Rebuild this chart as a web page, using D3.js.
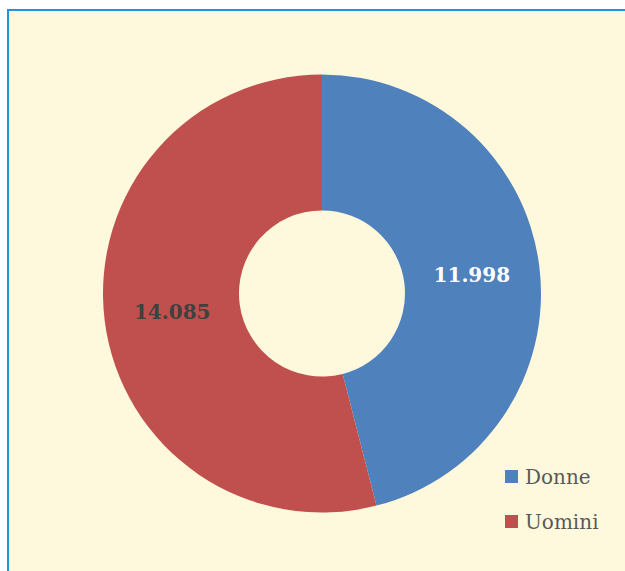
<!DOCTYPE html>
<html>
<head>
<meta charset="utf-8">
<script src="https://cdn.jsdelivr.net/npm/d3@7"></script>
<style>
  body { margin: 0; background: #fff; }
  svg { display: block; }
</style>
</head>
<body>
<svg width="625" height="571"></svg>
<script>
var categories = ["Donne", "Uomini"],
    values = [11998, 14085],
    valueLabels = ["11.998", "14.085"];

var colors = ["#4F81BD", "#C0504D"],
    labelColors = ["#ffffff", "#404040"];

var svg = d3.select("svg");

// chart area background with blue frame
svg.append("rect")
    .attr("x", 8).attr("y", 10)
    .attr("width", 640).attr("height", 580)
    .attr("fill", "#FEF9DC")
    .attr("stroke", "#1F96D8")
    .attr("stroke-width", 2);

var cx = 322, cy = 293.5, outer = 219, inner = 83;

var pie = d3.pie().sort(null).value(function(d) { return d; });
var arc = d3.arc().innerRadius(inner).outerRadius(outer);
var labelArc = d3.arc().innerRadius(151).outerRadius(151);

var g = svg.append("g").attr("transform", "translate(" + cx + "," + cy + ")");

var arcs = pie(values);

g.selectAll("path")
    .data(arcs)
  .enter().append("path")
    .attr("d", arc)
    .attr("fill", function(d, i) { return colors[i]; });

g.selectAll("text")
    .data(arcs)
  .enter().append("text")
    .attr("transform", function(d) { return "translate(" + labelArc.centroid(d) + ")"; })
    .attr("text-anchor", "middle")
    .attr("dy", "0.35em")
    .style("font", "bold 20px 'DejaVu Serif'")
    .attr("fill", function(d, i) { return labelColors[i]; })
    .text(function(d, i) { return valueLabels[i]; });

// legend
var legend = svg.append("g").attr("transform", "translate(505,470)");
var item = legend.selectAll("g")
    .data(categories)
  .enter().append("g")
    .attr("transform", function(d, i) { return "translate(0," + i * 45 + ")"; });

item.append("rect")
    .attr("width", 13).attr("height", 13)
    .attr("fill", function(d, i) { return colors[i]; });

item.append("text")
    .attr("x", 20).attr("y", 7)
    .attr("dy", "0.35em")
    .style("font", "20px 'DejaVu Serif'")
    .attr("fill", "#595959")
    .text(function(d) { return d; });
</script>
</body>
</html>
